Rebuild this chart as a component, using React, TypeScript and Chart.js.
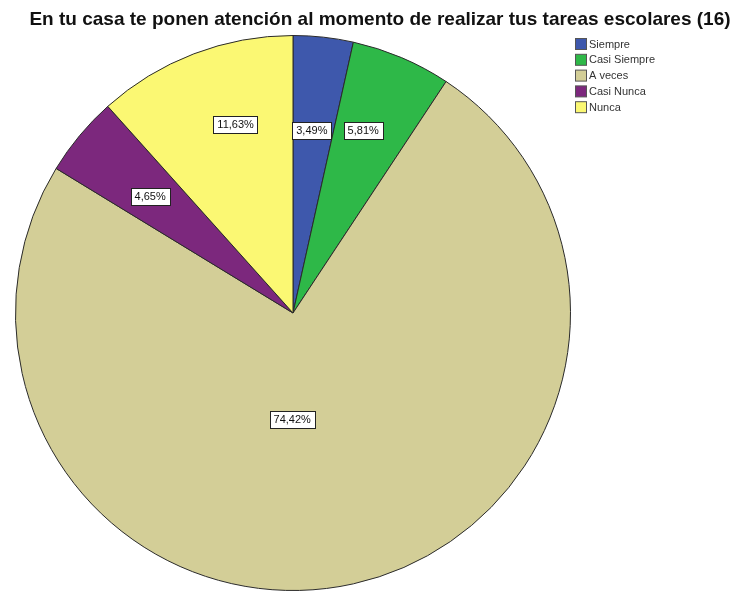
import React, { useEffect, useRef } from "react";
import { Chart, registerables } from "chart.js";

Chart.register(...registerables);

const TITLE = "En tu casa te ponen atención al momento de realizar tus tareas escolares (16)";
const categories = ["Siempre", "Casi Siempre", "A veces", "Casi Nunca", "Nunca"];
const percentages = [3.49, 5.81, 74.42, 4.65, 11.63];
const percentLabels = ["3,49%", "5,81%", "74,42%", "4,65%", "11,63%"];
const colors = ["#3E58AC", "#2EB848", "#D3CE97", "#7C287D", "#FBF873"];
// label placement: fraction of radius, and angle shift in degrees from slice middle
const labelRadius = [0.662, 0.705, 0.385, 0.665, 0.71];
const labelShift = [-0.4, -2, 13, -0.5, 4];

const overlayPlugin = {
  id: "overlay",
  afterDraw(chart: any) {
    const ctx = chart.ctx as CanvasRenderingContext2D;
    ctx.save();
    // title
    ctx.fillStyle = "#111";
    ctx.font = "bold 19px 'Liberation Sans', Arial, sans-serif";
    ctx.textAlign = "center";
    ctx.textBaseline = "middle";
    ctx.fillText(TITLE, 380, 20);

    // slice labels
    const meta = chart.getDatasetMeta(0);
    ctx.font = "11px 'Liberation Sans', Arial, sans-serif";
    meta.data.forEach((arc: any, i: number) => {
      const p = arc.getProps(["x", "y", "startAngle", "endAngle", "outerRadius"], true);
      const mid = (p.startAngle + p.endAngle) / 2 + (labelShift[i] * Math.PI) / 180;
      const r = p.outerRadius * labelRadius[i];
      const cx = p.x + Math.cos(mid) * r;
      const cy = p.y + Math.sin(mid) * r;
      const text = percentLabels[i];
      const w = ctx.measureText(text).width + 8;
      const h = 17;
      ctx.fillStyle = "#fff";
      ctx.fillRect(Math.round(cx - w / 2) + 0.5, Math.round(cy - h / 2) + 0.5, Math.round(w), h);
      ctx.strokeStyle = "#222";
      ctx.lineWidth = 1;
      ctx.strokeRect(Math.round(cx - w / 2) + 0.5, Math.round(cy - h / 2) + 0.5, Math.round(w), h);
      ctx.fillStyle = "#111";
      ctx.textAlign = "center";
      ctx.textBaseline = "middle";
      ctx.fillText(text, cx, cy + 0.5);
    });

    // legend
    const lx = 575;
    const ly = 38;
    const step = 15.8;
    ctx.font = "11px 'Liberation Sans', Arial, sans-serif";
    ctx.textAlign = "left";
    ctx.textBaseline = "middle";
    chart.data.labels.forEach((lab: string, i: number) => {
      const y = ly + i * step;
      ctx.fillStyle = colors[i];
      ctx.fillRect(lx + 0.5, y + 0.5, 11, 11);
      ctx.strokeStyle = "#555";
      ctx.lineWidth = 1;
      ctx.strokeRect(lx + 0.5, y + 0.5, 11, 11);
      ctx.fillStyle = "#333";
      ctx.fillText(lab, lx + 14, y + 6.5);
    });
    ctx.restore();
  },
};

export default function App() {
  const ref = useRef<HTMLCanvasElement | null>(null);
  useEffect(() => {
    document.body.style.margin = "0";
    document.body.style.background = "#fff";
    if (!ref.current) return;
    const chart = new Chart(ref.current, {
      type: "pie",
      data: {
        labels: categories,
        datasets: [
          {
            data: percentages,
            backgroundColor: colors,
            borderColor: "#2a2a2a",
            borderWidth: 1,
          },
        ],
      },
      options: {
        animation: false,
        responsive: false,
        maintainAspectRatio: false,
        devicePixelRatio: 1,
        layout: { padding: { left: 15, right: 170, top: 35, bottom: 0 } },
        plugins: {
          legend: { display: false },
          title: { display: false },
          tooltip: { enabled: false },
        },
      },
      plugins: [overlayPlugin],
    });
    return () => chart.destroy();
  }, []);
  return (
    <div style={{ width: 741, height: 591, position: "relative", background: "#fff" }}>
      <canvas ref={ref} width={741} height={591} style={{ display: "block" }} />
    </div>
  );
}
